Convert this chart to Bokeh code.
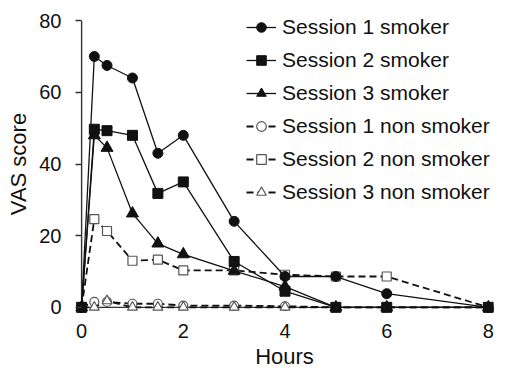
from bokeh.plotting import figure
from bokeh.models import Range1d, FixedTicker, Legend, LegendItem
from bokeh.embed import file_html
from bokeh.resources import INLINE

hours = [0, 0.25, 0.5, 1, 1.5, 2, 3, 4, 5, 6, 8]
s1_smoker = [0, 70, 67.5, 64, 43, 48, 24, 8.6, 8.6, 3.8, 0]
s2_smoker = [0, 49.7, 49.3, 48, 31.8, 35, 12.8, 4.5, 0, 0, 0]
s3_smoker = [0, 48, 44.5, 26.2, 17.8, 14.8, 10.2, 5.8, 0, 0, 0]
s1_non = [0, 1.5, 1.5, 1.0, 1.0, 0.5, 0.5, 0.3, 0, 0, 0]
s2_non = [0, 24.6, 21.3, 13, 13.3, 10.3, 10.3, 9.1, 8.6, 8.6, 0]
s3_non = [0, 0, 1.8, 0, 0, 0, 0, 0, 0, 0, 0]

x_ticks = [0, 2, 4, 6, 8]
y_ticks = [0, 20, 40, 60, 80]
labels = ["Session 1 smoker", "Session 2 smoker", "Session 3 smoker",
          "Session 1 non smoker", "Session 2 non smoker", "Session 3 non smoker"]

FONT = "Liberation Sans"
BLACK = "#111111"

p = figure(width=496, height=371, output_backend="svg", toolbar_location=None,
           x_range=Range1d(-0.12, 8.1), y_range=Range1d(-2, 82),
           min_border_left=75, min_border_right=3, min_border_top=13, min_border_bottom=56)
p.outline_line_color = None
p.grid.visible = False
p.background_fill_color = "white"

for ax in (p.xaxis[0], p.yaxis[0]):
    ax.axis_line_color = None
    ax.major_label_text_font = FONT
    ax.major_label_text_font_size = "20px"
    ax.major_label_text_color = BLACK
    ax.axis_label_text_font = FONT
    ax.axis_label_text_font_size = "22px"
    ax.axis_label_text_font_style = "normal"
    ax.axis_label_text_color = BLACK
    ax.minor_tick_line_color = None
    ax.major_tick_line_color = "#333333"
    ax.major_tick_line_width = 1.3

p.xaxis.ticker = FixedTicker(ticks=x_ticks)
p.yaxis.ticker = FixedTicker(ticks=y_ticks)
p.xaxis.axis_label = "Hours"
p.yaxis.axis_label = "VAS score"
p.xaxis.major_tick_in = 0
p.xaxis.major_tick_out = 0
p.xaxis.major_label_standoff = 9
p.xaxis.axis_label_standoff = 3
p.yaxis.major_tick_in = 6
p.yaxis.major_tick_out = 0
p.yaxis.major_label_standoff = 14
p.yaxis.axis_label_standoff = 5

# axis lines at data zero
p.segment(x0=[0], y0=[y_ticks[0]], x1=[0], y1=[y_ticks[-1]], line_color="#333333", line_width=1.4)
p.segment(x0=[x_ticks[0]], y0=[0], x1=[x_ticks[-1]], y1=[0], line_color="#333333", line_width=1.4)

OPEN = "#555555"
items = []
for vals, mk, sz, lab in [(s1_non, "circle", 9, labels[3]),
                          (s2_non, "square", 9, labels[4]),
                          (s3_non, "triangle", 10, labels[5])]:
    r = p.line(hours, vals, line_color=BLACK, line_width=1.8, line_dash="7 4")
    m = p.scatter(hours, vals, marker=mk, size=sz, fill_color="white", line_color=OPEN, line_width=1.2)
    items.append((lab, [r, m]))

sm = []
for vals, mk, sz, lab in [(s1_smoker, "circle", 10, labels[0]),
                          (s2_smoker, "square", 10, labels[1]),
                          (s3_smoker, "triangle", 12, labels[2])]:
    r = p.line(hours, vals, line_color=BLACK, line_width=1.3)
    m = p.scatter(hours, vals, marker=mk, size=sz, fill_color=BLACK, line_color=BLACK)
    sm.append((lab, [r, m]))

legend_items = [LegendItem(label=l, renderers=rs) for l, rs in sm + items]
legend = Legend(items=legend_items, location=(171, 110),
                label_text_font=FONT, label_text_font_size="21px", label_text_color=BLACK,
                glyph_width=30, glyph_height=24, label_height=24, spacing=9,
                label_standoff=6, padding=0, margin=0,
                border_line_color=None, background_fill_alpha=0)
p.add_layout(legend, "center")

open("out.html", "w").write(file_html(p, INLINE))
